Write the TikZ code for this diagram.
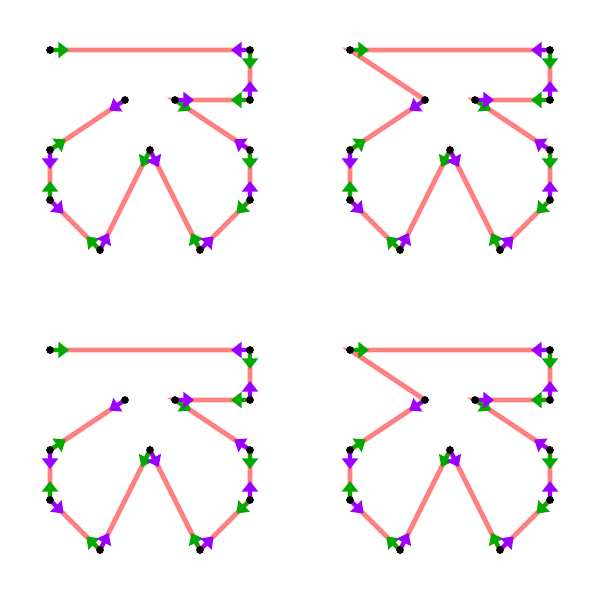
\documentclass[tikz,border=0pt]{standalone}
\usepackage{tikz}
\usetikzlibrary{arrows.meta,calc}

\definecolor{trackpink}{RGB}{255,128,128}
\definecolor{startgreen}{RGB}{0,170,0}
\definecolor{endpurple}{RGB}{153,0,255}

\tikzset{
  track/.style={draw=trackpink, line width=2.8pt, line join=miter},
  fwd/.style={draw=startgreen, line width=2.2pt, -{Triangle[width=9pt,length=6pt]}},
  bwd/.style={draw=endpurple, line width=2.2pt, -{Triangle[width=9pt,length=6pt]}},
}

\def\outline{(p0) -- (p1) -- (p2) -- (p3) -- (p4) -- (p5) -- (p6) -- (p7) -- (p8) -- (p9) -- (p10) -- (p11)}
\def\tiplen{0.38cm}

\begin{document}
\begin{tikzpicture}
  \useasboundingbox (0,0) rectangle (12,-12);

  \foreach \ox/\oy/\shut in {1/-1/0, 7/-1/1, 1/-7/0, 7/-7/1} {
    \begin{scope}[shift={(\ox,\oy)}]
      % corner points of the outline
      \foreach \x/\y [count=\i from 0] in {0/0, 4/0, 4/-1, 2.5/-1, 4/-2, 4/-3, 3/-4, 2/-2, 1/-4, 0/-3, 0/-2, 1.5/-1}
        \coordinate (p\i) at (\x,\y);

      \ifnum\shut=1
        \draw[track] \outline -- cycle;
      \else
        \draw[track] \outline;
      \fi

      % start and end directions of every segment
      \foreach \i [evaluate=\i as \j using int(\i+1)] in {0,...,10}
        \draw[fwd] (p\i) -- ($(p\i)!\tiplen!(p\j)$);
      \foreach \i [evaluate=\i as \j using int(\i+1)] in {0,...,10}
        \draw[bwd] (p\j) -- ($(p\j)!\tiplen!(p\i)$);

      \foreach \i in {0,...,11}
        \fill (p\i) circle (2.2pt);
    \end{scope}
  }
\end{tikzpicture}
\end{document}
